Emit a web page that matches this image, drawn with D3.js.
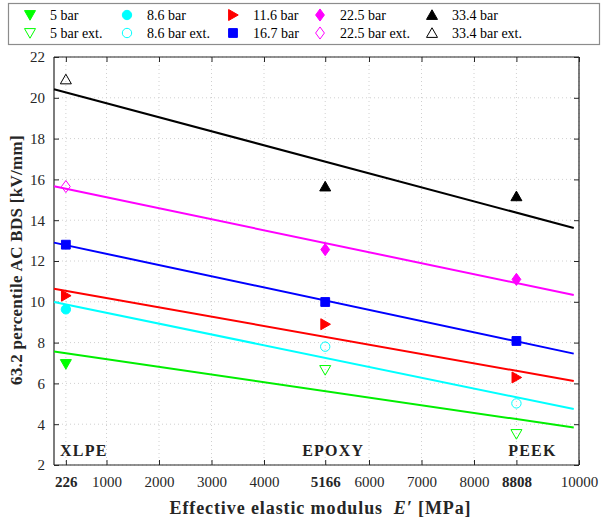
<!DOCTYPE html>
<html>
<head>
<meta charset="utf-8">
<script src="https://cdn.jsdelivr.net/npm/d3@7"></script>
<style>
  body { margin: 0; background: #fff; }
  text { font-family: "Liberation Serif", "Times New Roman", serif; }
</style>
</head>
<body>
<script>
// Materials and their effective elastic modulus
const materials = ["XLPE", "EPOXY", "PEEK"];
const modulus = [226, 5166, 8808];

// 63.2 percentile AC BDS per pressure level (null = not measured)
const bar5 = [6.95, null, null];
const bar5ext = [null, 6.66, 3.52];
const bar86 = [9.63, null, null];
const bar86ext = [null, 7.8, 5.02];
const bar116 = [10.3, 8.9, 6.29];
const bar167 = [12.8, 9.99, 8.08];
const bar225 = [null, 12.56, 11.1];
const bar225ext = [15.65, null, null];
const bar334 = [null, 15.65, 15.17];
const bar334ext = [20.9, null, null];

// fitted lines, value at start and end of fit range
const fitRange = [0, 9900];
const fit5 = [7.56, 3.84];
const fit86 = [9.99, 4.74];
const fit116 = [10.64, 6.12];
const fit167 = [12.9, 7.46];
const fit225 = [15.66, 10.33];
const fit334 = [20.42, 13.62];

const xTicks = [226, 1000, 2000, 3000, 4000, 5166, 6000, 7000, 8000, 8808, 10000];
const boldTicks = [226, 5166, 8808];
const yTicks = [2, 4, 6, 8, 10, 12, 14, 16, 18, 20, 22];

const width = 603, height = 523;
const m = { left: 54, right: 579, top: 57, bottom: 465 };

const svg = d3.select("body").append("svg")
    .attr("width", width)
    .attr("height", height);

const x = d3.scaleLinear().domain([0, 10000]).range([m.left, m.right]);
const y = d3.scaleLinear().domain([2, 22]).range([m.bottom, m.top]);

// marker shapes
function shape(type, s) {
    const h = s / 2;
    switch (type) {
        case "down": return `M${-h},${-h * 0.8}L${h},${-h * 0.8}L0,${h * 0.95}Z`;
        case "up": return `M${-h},${h * 0.8}L${h},${h * 0.8}L0,${-h * 0.95}Z`;
        case "right": return `M${-h * 0.8},${-h}L${-h * 0.8},${h}L${h * 0.95},0Z`;
        case "square": return `M${-h * 0.8},${-h * 0.8}h${s * 0.8}v${s * 0.8}h${-s * 0.8}Z`;
        case "diamond": return `M0,${-h * 1.1}L${h * 0.8},0L0,${h * 1.1}L${-h * 0.8},0Z`;
        case "circle": return d3.arc()({ innerRadius: 0, outerRadius: h * 0.85, startAngle: 0, endAngle: 2 * Math.PI });
    }
}

const series = [
    { name: "5 bar", values: bar5, color: "#00ff00", type: "down", filled: true },
    { name: "5 bar ext.", values: bar5ext, color: "#00ff00", type: "down", filled: false },
    { name: "8.6 bar", values: bar86, color: "#00ffff", type: "circle", filled: true },
    { name: "8.6 bar ext.", values: bar86ext, color: "#00ffff", type: "circle", filled: false },
    { name: "11.6 bar", values: bar116, color: "#ff0000", type: "right", filled: true },
    { name: "16.7 bar", values: bar167, color: "#0000ff", type: "square", filled: true },
    { name: "22.5 bar", values: bar225, color: "#ff00ff", type: "diamond", filled: true },
    { name: "22.5 bar ext.", values: bar225ext, color: "#ff00ff", type: "diamond", filled: false },
    { name: "33.4 bar", values: bar334, color: "#000000", type: "up", filled: true },
    { name: "33.4 bar ext.", values: bar334ext, color: "#000000", type: "up", filled: false }
];

const fits = [
    { values: fit5, color: "#00ee00" },
    { values: fit86, color: "#00ffff" },
    { values: fit116, color: "#ff0000" },
    { values: fit167, color: "#0000ff" },
    { values: fit225, color: "#ff00ff" },
    { values: fit334, color: "#000000" }
];

// grid
const grid = svg.append("g").attr("stroke", "#d0d0d0").attr("stroke-dasharray", "1,3");
grid.selectAll(".gx").data(xTicks).enter().append("line")
    .attr("x1", d => x(d)).attr("x2", d => x(d))
    .attr("y1", m.top).attr("y2", m.bottom);
grid.selectAll(".gy").data(yTicks).enter().append("line")
    .attr("x1", m.left).attr("x2", m.right)
    .attr("y1", d => y(d)).attr("y2", d => y(d));

// axes
const axisColor = "#262626";
const xAxis = svg.append("g")
    .attr("transform", `translate(0,${m.bottom})`)
    .call(d3.axisBottom(x).tickValues(xTicks).tickSize(-5).tickPadding(11).tickFormat(d3.format("d")));
const xTop = svg.append("g")
    .attr("transform", `translate(0,${m.top})`)
    .call(d3.axisTop(x).tickValues(xTicks).tickSize(-5).tickFormat(""));
const yAxis = svg.append("g")
    .attr("transform", `translate(${m.left},0)`)
    .call(d3.axisLeft(y).tickValues(yTicks).tickSize(-5).tickPadding(9));
const yRight = svg.append("g")
    .attr("transform", `translate(${m.right},0)`)
    .call(d3.axisRight(y).tickValues(yTicks).tickSize(-5).tickFormat(""));

[xAxis, xTop, yAxis, yRight].forEach(a => {
    a.select(".domain").attr("stroke", axisColor).attr("stroke-width", 1.2);
    a.selectAll(".tick line").attr("stroke", axisColor);
    a.selectAll(".tick text").attr("fill", axisColor).style("font-size", "15px")
        .style("font-family", "'Liberation Serif', serif");
});
xAxis.selectAll(".tick text").style("font-weight", d => boldTicks.includes(d) ? "bold" : "normal");
xAxis.selectAll(".domain").attr("d", `M${m.left},0H${m.right}`);
xTop.selectAll(".domain").attr("d", `M${m.left},0H${m.right}`);
yAxis.selectAll(".domain").attr("d", `M0,${m.bottom}V${m.top}`);
yRight.selectAll(".domain").attr("d", `M0,${m.bottom}V${m.top}`);

// fitted lines
const line = d3.line().x(d => x(d[0])).y(d => y(d[1]));
svg.append("g").selectAll("path").data(fits).enter().append("path")
    .attr("d", d => line([[fitRange[0], d.values[0]], [fitRange[1], d.values[1]]]))
    .attr("fill", "none")
    .attr("stroke", d => d.color)
    .attr("stroke-width", 2);

// markers
series.forEach(s => {
    const pts = modulus.map((e, i) => [e, s.values[i]]).filter(p => p[1] != null);
    svg.append("g").selectAll("path").data(pts).enter().append("path")
        .attr("transform", p => `translate(${x(p[0])},${y(p[1])})`)
        .attr("d", shape(s.type, 11))
        .attr("fill", s.filled ? s.color : "none")
        .attr("stroke", s.color)
        .attr("stroke-width", 1);
});

// material labels
const matX = [x(modulus[0]) + 18, x(modulus[1]) + 8, x(modulus[2]) + 16];
svg.append("g").selectAll("text").data(materials).enter().append("text")
    .attr("x", (d, i) => matX[i])
    .attr("y", 456)
    .attr("text-anchor", "middle")
    .style("font-size", "16px")
    .style("font-weight", "bold")
    .style("letter-spacing", "1.2px")
    .attr("fill", "#222")
    .text(d => d);

// axis labels
svg.append("text")
    .attr("x", (m.left + m.right) / 2 + 4)
    .attr("y", 514)
    .attr("text-anchor", "middle")
    .style("font-size", "18px")
    .style("font-weight", "bold")
    .style("letter-spacing", "0.9px")
    .attr("fill", "#262626")
    .html("Effective elastic modulus&#160;&#160;<tspan font-style='italic'>E′</tspan> [MPa]");

svg.append("text")
    .attr("transform", `translate(22,${(m.top + m.bottom) / 2 - 1}) rotate(-90)`)
    .attr("text-anchor", "middle")
    .style("font-size", "17px")
    .style("font-weight", "bold")
    .style("letter-spacing", "0.3px")
    .attr("fill", "#262626")
    .text("63.2 percentile AC BDS [kV/mm]");

// legend
const legend = svg.append("g");
legend.append("rect")
    .attr("x", 8.5).attr("y", 3.5)
    .attr("width", 591).attr("height", 41)
    .attr("fill", "#fff")
    .attr("stroke", "#8c8c8c")
    .attr("stroke-width", 1.2);

const legendCols = [30, 127, 233, 320, 432];
const legendRows = [15, 33];
series.forEach((s, i) => {
    const col = Math.floor(i / 2), row = i % 2;
    const lx = legendCols[col], ly = legendRows[row];
    legend.append("path")
        .attr("transform", `translate(${lx},${ly})`)
        .attr("d", shape(s.type, 11))
        .attr("fill", s.filled ? s.color : "none")
        .attr("stroke", s.color);
    legend.append("text")
        .attr("x", lx + 20)
        .attr("y", ly + 5)
        .style("font-size", "14px")
        .attr("fill", "#000")
        .text(s.name);
});
</script>
</body>
</html>
